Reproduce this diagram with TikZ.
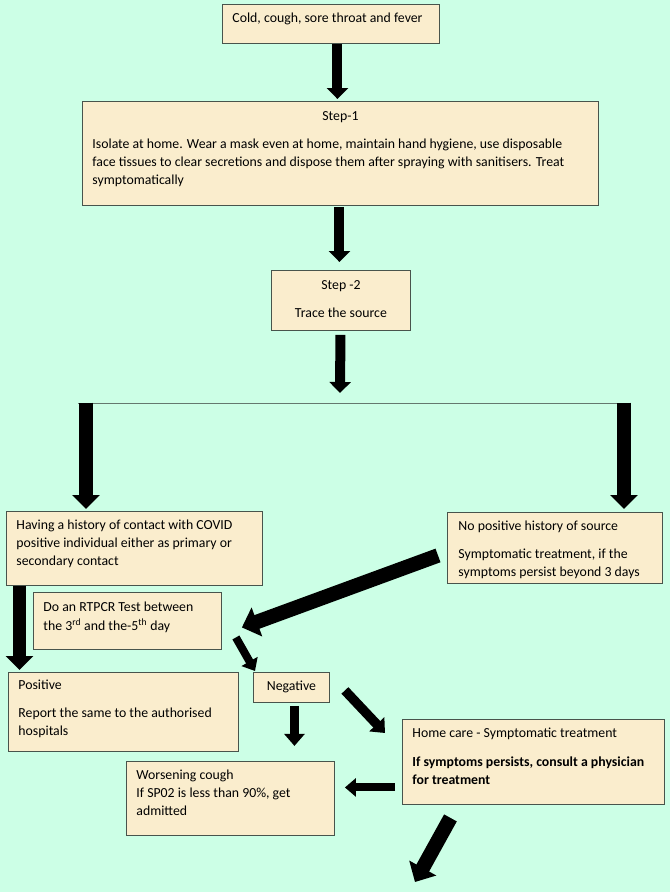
\documentclass[tikz,border=0pt]{standalone}
\usepackage{fontspec}
\setmainfont{Carlito}
\usetikzlibrary{arrows.meta,calc}
\definecolor{bgmint}{RGB}{204,255,230}
\definecolor{boxfill}{RGB}{250,237,205}
\definecolor{boxline}{RGB}{72,84,76}
\definecolor{splitline}{RGB}{100,120,110}
\newcommand\bxt[4]{\parbox[c][#1][t]{#2}{\rule{0pt}{#3}#4}}
\begin{document}
\begin{tikzpicture}[x=1pt,y=1pt,
  box/.style={draw=boxline, fill=boxfill, line width=0.9pt, inner ysep=0pt, inner xsep=10pt, anchor=north west,
    font=\fontsize{13.8pt}{18pt}\selectfont},
  smallarr/.style={-{Triangle[width=21pt,length=11pt]}, line width=10pt, black},
  bigarr/.style={-{Triangle[width=27pt,length=14pt]}, line width=13.5pt, black},
  diagarr/.style={-{Triangle[width=30pt,length=16pt]}, line width=14.5pt, black},
  thinarr/.style={-{Triangle[width=18pt,length=11pt]}, line width=8pt, black},
  midarr/.style={-{Triangle[width=20pt,length=12pt]}, line width=9.5pt, black},
  splitl/.style={draw=splitline, line width=1pt}
]
\useasboundingbox (0,0) rectangle (670,-892);
\fill[bgmint] (0,0) rectangle (670,-892);

\node[box] (b1) at (222,-4) {\bxt{39pt}{197pt}{18pt}{Cold, cough, sore throat and fever}};
\node[box] (b2) at (82,-101) {\bxt{104pt}{496pt}{19pt}{{\centering Step-1\par}\vspace{10pt}\raggedright
 Isolate at home. Wear a mask even at home, maintain hand hygiene, use disposable\\
 face tissues to clear secretions and dispose them after spraying with sanitisers. Treat\\
 symptomatically}};
\node[box] (b3) at (271,-270) {\bxt{60pt}{119pt}{19pt}{{\centering Step -2\par}\vspace{10pt}{\centering Trace the source\par}}};
\node[box] (b4) at (6,-511) {\bxt{74pt}{236pt}{18pt}{Having a history of contact with COVID\\
 positive individual either as primary or\\ secondary contact}};
\node[box, inner xsep=11pt] (b5) at (447,-512) {\bxt{71pt}{193pt}{18pt}{No positive history of source\par\vspace{10pt}
 Symptomatic treatment, if the\\ symptoms persist beyond 3 days}};
\node[box] (b6) at (33,-592) {\bxt{57pt}{168pt}{19pt}{Do an RTPCR Test between\\[1pt]
 the 3\textsuperscript{rd} and the-5\textsuperscript{th} day}};
\node[box] (b7) at (8,-672) {\bxt{79pt}{210pt}{17pt}{Positive\par\vspace{10pt}
 Report the same to the authorised\\ hospitals}};
\node[box, inner xsep=4pt] (b8) at (253,-672) {\bxt{30pt}{68pt}{18pt}{{\centering Negative\par}}};
\node[box] (b9) at (402,-719) {\bxt{85pt}{242pt}{18pt}{Home care - Symptomatic treatment\par\vspace{11pt}
 \textbf{If symptoms persists, consult a physician\\ for treatment}}};
\node[box] (b10) at (126,-761) {\bxt{74pt}{188pt}{18pt}{Worsening cough\\
 If SP02 is less than 90\%, get\\ admitted}};

\coordinate (split) at (340,-403);
\coordinate (hl) at (78,-403);
\coordinate (hr) at (631,-403);
\coordinate (tl) at (86,-403);
\coordinate (tr) at (624,-403);
\coordinate (endpt) at (415,-882);

\draw[smallarr] ($(b1.south)+(6.5,0)$) -- ($(b2.north)+(-3,2)$);
\draw[smallarr] ($(b2.south)+(-1,-1)$) -- ($(b3.north)+(-1.5,8)$);
\draw[smallarr] ($(b3.south)+(-0.5,-4)$) -- ($(split)+(0,10)$);
\draw[splitl] (hl) -- (hr);
\draw[bigarr] ($(tl)+(0,0.5)$) -- ($(tl |- b4.north)+(0,2)$);
\draw[bigarr] ($(tr)+(0,0.5)$) -- ($(tr |- b5.north)+(0,3)$);
\draw[bigarr] ($(b4.south west)+(13.5,0)$) -- ($(b7.north west)+(11.5,2)$);
\draw[diagarr] ($(b5.west)+(-9,-7.5)$) -- ($(b6.east)+(20,-6.5)$);
\draw[thinarr] ($(b6.east)+(14,-16.5)$) -- ($(b8.north west)+(2,1)$);
\draw[midarr] ($(b8.south)+(3,-3)$) -- ($(b8.south)+(3,-43)$);
\draw[midarr] ($(b8.east)+(15,-3)$) -- ($(b9.north west)+(-17,-14)$);
\draw[thinarr] ($(b9.west)+(-7,-25.5)$) -- ($(b10.east)+(10,11)$);
\draw[diagarr] ($(b9.south)+(-83,-13)$) -- (endpt);
\end{tikzpicture}
\end{document}
